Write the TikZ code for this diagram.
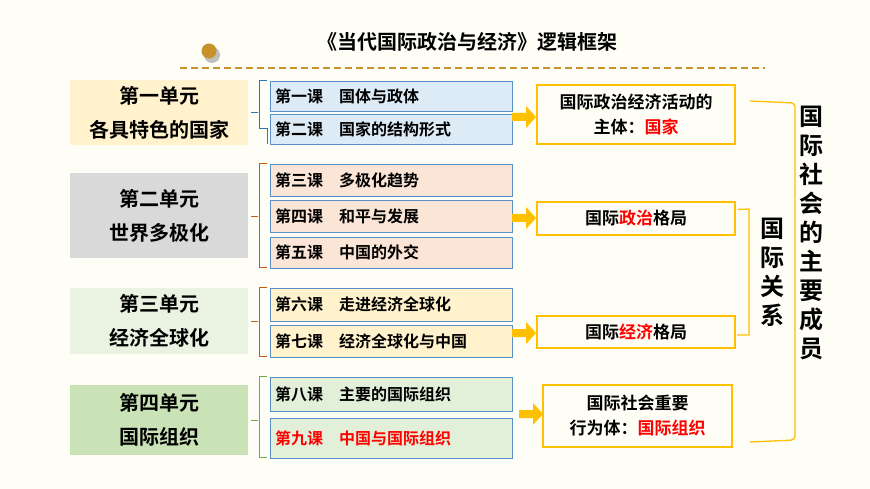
\documentclass[tikz,border=0pt]{standalone}
\usepackage{fontspec}
\setmainfont{Noto Sans CJK SC Bold}
\usetikzlibrary{positioning,calc,arrows.meta}
\definecolor{bgcream}{HTML}{FFFEF6}
\definecolor{gold}{HTML}{FFC000}
\definecolor{dotbrown}{HTML}{C8922A}
\definecolor{lblue}{HTML}{2E75B6}
\definecolor{brick}{HTML}{C55A11}
\definecolor{lgreen}{HTML}{70AD47}
\definecolor{fillyel}{HTML}{FFF2CC}
\definecolor{fillgray}{HTML}{D9D9D9}
\definecolor{fillgrn}{HTML}{EAF3E2}
\definecolor{fillgrn2}{HTML}{C9E2B6}
\definecolor{fillblue}{HTML}{DDEBF7}
\definecolor{fillpeach}{HTML}{FBE5D6}
\definecolor{filllgrn}{HTML}{E2F0D9}
\tikzset{
  unitbox/.style={minimum width=178pt, inner sep=0pt, align=center, font=\fontsize{20}{34}\selectfont},
  lessonbox/.style={draw=lblue!80, minimum width=242pt, inner sep=0pt, anchor=west, text width=232pt, font=\fontsize{16}{18}\selectfont},
  resultbox/.style={draw=gold, line width=1.3pt, inner sep=0pt, align=center, font=\fontsize{17}{25}\selectfont},
  sidelabel/.style={align=center, font=\fontsize{24}{29}\selectfont},
}
\newcommand{\hl}[1]{\textcolor{red}{#1}}
\newcommand{\goarrow}[1]{\fill[gold] ($(#1)+(-12,-4)$) -- ++(14,0) -- ++(0,-7) -- ++(10,11) -- ++(-10,11) -- ++(0,-7) -- ++(-14,0) -- cycle;}
\begin{document}
\begin{tikzpicture}[x=1pt, y=-1pt]
		% background
		\fill[bgcream] (0,0) rectangle (870,489);
		\useasboundingbox (0,0) rectangle (870,489);

		% title
		\node[font=\fontsize{20}{22}\selectfont] (title) at (467,42) {《当代国际政治与经济》逻辑框架};
		\fill[black!25] (212,55) circle (8);
		\fill[dotbrown] (209,51) circle (7.5);
		\draw[dotbrown, line width=1.5pt, dash pattern=on 7pt off 4pt] (180,68) -- (765,68);

		% units
		\node[unitbox, fill=fillyel, minimum height=65pt] (u1) at (159,112.5) {第一单元\\各具特色的国家};
		\node[unitbox, fill=fillgray, minimum height=85pt] (u2) at (159,215.5) {第二单元\\世界多极化};
		\node[unitbox, fill=fillgrn, minimum height=66pt] (u3) at (159,321) {第三单元\\经济全球化};
		\node[unitbox, fill=fillgrn2, minimum height=70pt] (u4) at (159,420) {第四单元\\国际组织};

		% lessons
		\node[lessonbox, fill=fillblue, minimum height=30pt] (l1) at (270,96) {第一课\quad 国体与政体};
		\node[lessonbox, fill=fillblue, minimum height=30pt] (l2) at (270,129) {第二课\quad 国家的结构形式};
		\node[lessonbox, fill=fillpeach, minimum height=32pt] (l3) at (270,180) {第三课\quad 多极化趋势};
		\node[lessonbox, fill=fillpeach, minimum height=32pt] (l4) at (270,216) {第四课\quad 和平与发展};
		\node[lessonbox, fill=fillpeach, minimum height=31pt] (l5) at (270,252.5) {第五课\quad 中国的外交};
		\node[lessonbox, fill=fillyel, minimum height=33pt] (l6) at (270,304.5) {第六课\quad 走进经济全球化};
		\node[lessonbox, fill=fillyel, minimum height=32pt] (l7) at (270,341) {第七课\quad 经济全球化与中国};
		\node[lessonbox, fill=filllgrn, minimum height=34pt] (l8) at (270,394) {第八课\quad 主要的国际组织};
		\node[lessonbox, fill=filllgrn, minimum height=40pt] (l9) at (270,438) {\hl{第九课\quad 中国与国际组织}};

		% brackets
		\draw[lblue, thick] (l1.north west) ++(-3,0) -| ++(-8,48) -| ($(l2.south west)+(-3,0)$);
		\draw[lblue, thick] (258,112.5) -- (251,112.5);
		\draw[brick, thick] (l3.north west) ++(-3,0) -| ++(-8,104) -- ++(8,0);
		\draw[brick, thick] (258,216) -- (251,216);
		\draw[brick, thick] (l6.north west) ++(-3,0) -| ++(-8,69) -- ++(8,0);
		\draw[brick, thick] (258,321) -- (251,321);
		\draw[lgreen, thick] (l8.north west) ++(-3,0) -| ++(-8,81) -- ++(8,0);
		\draw[lgreen, thick] (258,420) -- (251,420);

		% results
		\node[resultbox, minimum width=198pt, minimum height=59pt] (r1) at (636,114.5) {国际政治经济活动的\\主体：\hl{国家}};
		\node[resultbox, minimum width=198pt, minimum height=33pt] (r2) at (636,218.5) {国际\hl{政治}格局};
		\node[resultbox, minimum width=198pt, minimum height=32pt] (r3) at (636,332) {国际\hl{经济}格局};
		\node[resultbox, minimum width=189pt, minimum height=62pt] (r4) at (637.5,416) {国际社会重要\\行为体：\hl{国际组织}};

		% arrows
		\coordinate (a1) at (524,117);
		\coordinate (a2) at (524,218);
		\coordinate (a3) at (524,333);
		\coordinate (a4) at (531,414);
		\goarrow{a1} \goarrow{a2} \goarrow{a3} \goarrow{a4}

		% relations
		\draw[gold, line width=1.3pt] (r2.east) ++(2,-9) -- (749,209) -- (749,335) -- (737,335);
		\node[sidelabel] (rel) at (772,272) {国\\际\\关\\系};

		% members
		\draw[gold, line width=1.3pt, rounded corners=4pt] (750,101) -- (795,103) -- (795,440) -- (750,442);
		\node[sidelabel] (mem) at (811,233) {国\\际\\社\\会\\的\\主\\要\\成\\员};
	\end{tikzpicture}
\end{document}
